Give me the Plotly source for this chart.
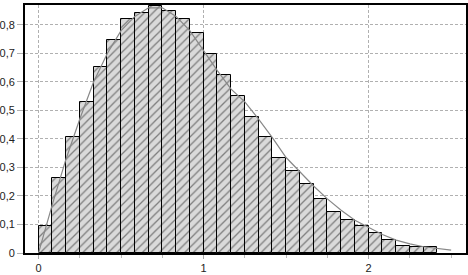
import plotly.graph_objects as go

# Histogram bins (left edges, width = 1/12)
bin_width = 1 / 12
bin_left = [i / 12 for i in range(29)]
bar_heights = [0.095, 0.262, 0.408, 0.531, 0.652, 0.747, 0.821, 0.842, 0.866,
               0.848, 0.822, 0.771, 0.697, 0.625, 0.552, 0.478, 0.408, 0.334,
               0.287, 0.241, 0.189, 0.143, 0.117, 0.095, 0.069, 0.046, 0.023,
               0.022, 0.022]

# Density curve (values at bin edges)
curve_x = [i / 12 for i in range(31)]
curve_y = [0.0, 0.17, 0.33, 0.47, 0.60, 0.70, 0.78, 0.83, 0.86, 0.86, 0.83,
           0.78, 0.71, 0.64, 0.575, 0.53, 0.47, 0.405, 0.335, 0.285, 0.235,
           0.19, 0.15, 0.115, 0.09, 0.065, 0.045, 0.032, 0.022, 0.015, 0.01]

y_tick_vals = [0, 0.1, 0.2, 0.3, 0.4, 0.5, 0.6, 0.7, 0.8]
y_tick_text = ["0", "0,1", "0,2", "0,3", "0,4", "0,5", "0,6", "0,7", "0,8"]
x_tick_vals = [0, 1, 2]
x_tick_text = ["0", "1", "2"]

fig = go.Figure()
fig.add_trace(go.Bar(
    x=bin_left, y=bar_heights, width=bin_width, offset=0,
    marker=dict(
        color="#dadada",
        line=dict(color="#000000", width=1),
        pattern=dict(shape="/", size=6, solidity=0.22,
                     fgcolor="#222222", bgcolor="#dadada"),
    ),
    showlegend=False,
))
fig.add_trace(go.Scatter(
    x=curve_x, y=curve_y, mode="lines",
    line=dict(color="#888888", width=1.2),
    showlegend=False,
))

fig.update_layout(
    width=468, height=275,
    margin=dict(l=25, r=2, t=5, b=22, autoexpand=False),
    paper_bgcolor="white", plot_bgcolor="white",
    bargap=0,
    font=dict(family="Liberation Sans, Arial, sans-serif", size=11, color="#222222"),
)
fig.update_xaxes(
    range=[-0.082, 2.59], automargin=False,
    tickvals=x_tick_vals, ticktext=x_tick_text,
    showgrid=True, gridcolor="#b0b0b0", griddash="3px,2px", gridwidth=1,
    zeroline=False,
    showline=True, linecolor="#000000", linewidth=2, mirror=True,
    ticks="outside", ticklen=4, tickcolor="#aaaaaa",
    minor=dict(dtick=0.25, ticks="outside", ticklen=3, tickcolor="#bbbbbb", showgrid=False),
)
fig.update_yaxes(
    range=[0, 0.87], automargin=False,
    tickvals=y_tick_vals, ticktext=y_tick_text,
    showgrid=True, gridcolor="#b0b0b0", griddash="3px,2px", gridwidth=1,
    zeroline=False,
    showline=True, linecolor="#000000", linewidth=2, mirror=True,
    ticks="outside", ticklen=6, tickcolor="#b0b0b0",
)

fig.write_html("out.html", config={"displayModeBar": False},
               post_script="document.body.style.margin='0';")
